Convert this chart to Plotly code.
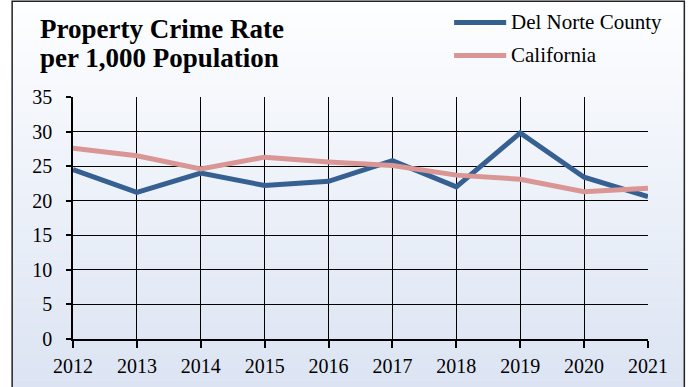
import plotly.graph_objects as go

years = [2012, 2013, 2014, 2015, 2016, 2017, 2018, 2019, 2020, 2021]
del_norte = [24.5, 21.2, 24.0, 22.2, 22.8, 25.8, 22.0, 29.8, 23.4, 20.6]
california = [27.6, 26.5, 24.6, 26.3, 25.6, 25.1, 23.7, 23.1, 21.3, 21.8]
series_names = ["Del Norte County", "California"]
series_colors = ["#376092", "#D99694"]
y_ticks = [0, 5, 10, 15, 20, 25, 30, 35]
title_lines = ["Property Crime Rate", "per 1,000 Population"]

W, H = 691, 387
L, R, T, B = 73.3, 647.7, 97.3, 339.3
FONT = "Liberation Serif"


def px2x(px):
    return (px - L) / (R - L)


def py2y(py):
    return (B - py) / (B - T)


fig = go.Figure()
for name, vals, col in zip(series_names, [del_norte, california], series_colors):
    fig.add_trace(go.Scatter(x=years, y=vals, name=name, mode="lines",
                             line=dict(color=col, width=5), showlegend=False,
                             hoverinfo="skip"))

shapes = []
# vertical gradient background inside the outer frame
n = 60
top_c = (253, 254, 255)
bot_c = (220, 228, 243)
y_top, y_bot = 1.5, 387.0
for i in range(n):
    t = i / (n - 1)
    c = tuple(int(round(top_c[k] + (bot_c[k] - top_c[k]) * t)) for k in range(3))
    ya = y_top + (y_bot - y_top) * i / n
    yb = y_top + (y_bot - y_top) * (i + 1) / n + 0.5
    shapes.append(dict(type="rect", xref="paper", yref="paper", layer="below",
                       x0=px2x(12.5), x1=px2x(684), y0=py2y(yb), y1=py2y(ya),
                       fillcolor="rgb(%d,%d,%d)" % c, line=dict(width=0)))
# outer frame
shapes.append(dict(type="rect", xref="paper", yref="paper", layer="above",
                   x0=px2x(12.5), x1=px2x(684), y0=py2y(400), y1=py2y(1.5),
                   line=dict(color="#222", width=1.5), fillcolor="rgba(0,0,0,0)"))
annotations = []
# legend
leg_y = [22.7, 55.7]
for name, col, ly in zip(series_names, series_colors, leg_y):
    shapes.append(dict(type="line", xref="paper", yref="paper", layer="above",
                       x0=px2x(454), x1=px2x(506), y0=py2y(ly), y1=py2y(ly),
                       line=dict(color=col, width=5)))
    annotations.append(dict(xref="paper", yref="paper", x=px2x(509), y=py2y(ly),
                            xanchor="left", yanchor="middle", showarrow=False,
                            text=name, font=dict(family=FONT, size=21, color="#000")))
# title
for line, ty in zip(title_lines, [29, 58.5]):
    annotations.append(dict(xref="paper", yref="paper", x=px2x(38), y=py2y(ty),
                            xanchor="left", yanchor="middle", showarrow=False,
                            text="<b>%s</b>" % line,
                            font=dict(family=FONT, size=27, color="#000")))

fig.update_layout(
    width=W, height=H,
    margin=dict(l=L, r=W - R, t=T, b=H - B),
    paper_bgcolor="white", plot_bgcolor="rgba(0,0,0,0)",
    font=dict(family=FONT, color="#000"),
    shapes=shapes, annotations=annotations, showlegend=False,
    xaxis=dict(range=[2012, 2021], tickvals=years, ticktext=[str(y) for y in years],
               showgrid=True, gridcolor="#000", gridwidth=1,
               showline=True, linecolor="#000", linewidth=1.5, mirror=False,
               ticks="outside", ticklen=7, tickcolor="#000", tickwidth=1.5,
               ticklabelstandoff=1, automargin=False,
               tickfont=dict(family=FONT, size=20, color="#000"), zeroline=False),
    yaxis=dict(range=[0, 35], tickvals=y_ticks,
               showgrid=True, gridcolor="#000", gridwidth=1,
               showline=True, linecolor="#000", linewidth=1.5,
               ticks="outside", ticklen=5, tickcolor="#000", tickwidth=1.5,
               ticklabelstandoff=10, automargin=False,
               tickfont=dict(family=FONT, size=20, color="#000"), zeroline=False),
)
fig.write_html("out.html", config={"displayModeBar": False},
               post_script="document.body.style.margin='0';document.body.style.padding='0';")
